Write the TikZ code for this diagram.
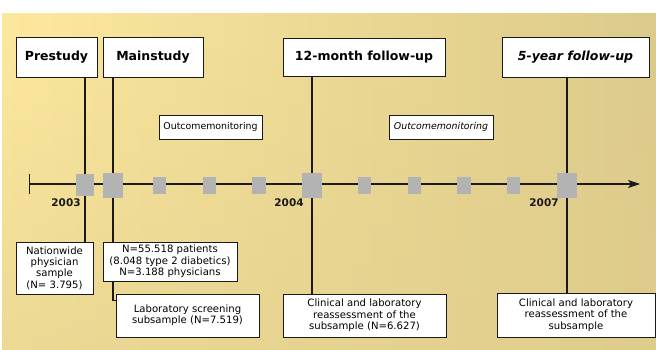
\documentclass[tikz,border=0pt]{standalone}
\usepackage{fontspec}
\setmainfont{DejaVu Sans}
\usetikzlibrary{arrows.meta,fadings,shadows}
\definecolor{bgA}{HTML}{FDE99E}
\definecolor{bgB}{HTML}{DCCA8B}
\definecolor{bgC}{HTML}{E2CF8E}
\definecolor{sqgray}{HTML}{B3B3B3}
\definecolor{ink}{HTML}{1A1A1A}
\tikzset{
  box/.style={draw=ink, line width=0.8pt, fill=white, inner sep=1pt, align=center,
    drop shadow={shadow xshift=1pt, shadow yshift=-1pt, fill=black, opacity=0.35}},
  titlebox/.style={box, font=\fontsize{12.5}{14}\selectfont\bfseries},
  smallbox/.style={box, font=\fontsize{10.1}{11.4}\selectfont},
  ombox/.style={box, font=\fontsize{9.4}{11}\selectfont},
  sqsmall/.style={fill=sqgray, minimum width=13pt, minimum height=17pt, inner sep=0pt},
  sqlarge/.style={fill=sqgray, minimum width=19pt, minimum height=25pt, inner sep=0pt},
  conn/.style={draw=ink, line width=1.2pt},
  year/.style={font=\fontsize{10.5}{12}\selectfont\bfseries, text=ink}
}
\begin{document}
\begin{tikzpicture}[x=1pt, y=-1pt]
\useasboundingbox (0,0) rectangle (656,350);
% background
\shade[left color=bgA, right color=bgB] (2,14) rectangle (656,350);
\fill[bgC, path fading=north, opacity=0.6] (2,14) rectangle (656,350);

% squares on timeline
\node[sqlarge, minimum width=17pt, minimum height=22pt] (s1) at (85,185) {};
\node[sqlarge] (s2) at (113,185.5) {};
\node[sqsmall] (s3) at (159.5,185.5) {};
\node[sqsmall] (s4) at (209.5,185.5) {};
\node[sqsmall] (s5) at (259,185.5) {};
\node[sqlarge] (s6) at (312,185.5) {};
\node[sqsmall] (s7) at (364.5,185.5) {};
\node[sqsmall] (s8) at (414.5,185.5) {};
\node[sqsmall] (s9) at (464,185.5) {};
\node[sqsmall] (s10) at (513.5,185.5) {};
\node[sqlarge] (s11) at (567,185.5) {};

% boxes
\node[titlebox, minimum width=81pt, minimum height=40pt] (pre) at (56.5,57) {Prestudy};
\node[titlebox, minimum width=100pt, minimum height=40pt] (main) at (153,57) {Mainstudy};
\node[titlebox, minimum width=162pt, minimum height=38pt] (twelve) at (364,57) {12-month follow-up};
\node[titlebox, minimum width=147pt, minimum height=40pt] (five) at (575.5,57) {\itshape 5-year follow-up};

\node[smallbox, minimum width=77pt, minimum height=52pt] (nat) at (54.5,268) {Nationwide\\physician\\sample\\(N= 3.795)};
\node[smallbox, minimum width=143pt, minimum height=43pt] (lab) at (187.5,315.5) {Laboratory screening\\subsample (N=7.519)};
\node[smallbox, minimum width=163pt, minimum height=43pt] (clin1) at (364.5,315.5) {Clinical and laboratory\\reassessment of the\\subsample (N=6.627)};
\node[smallbox, minimum width=158pt, minimum height=44pt] (clin2) at (576,315) {Clinical and laboratory\\reassessment of the\\subsample};

% connectors (behind the n55 box)
\draw[conn] (pre.south -| s1) -- (nat.north -| s1);
\draw[conn] (main.south -| s2) |- ([yshift=-7pt]lab.north west);
\draw[conn] (twelve.south -| s6) -- (clin1.north -| s6);
\draw[conn] (five.south -| s11) -- (clin2.north -| s11);

% timeline
\coordinate (t0) at (29,184);
\coordinate (t1) at (640,184);
\draw[ink, line width=1.3pt, {Bar[width=20pt,line width=1.3pt]}-{Stealth[length=12pt,width=8pt,inset=3pt]}] (t0) -- (t1);
\foreach \s in {s1,s2,s3,s4,s5,s6,s7,s8,s9,s10,s11} {\fill[sqgray] (\s.south west) rectangle (\s.north east);}

\node[smallbox, minimum width=134pt, minimum height=39pt] (n55) at (170,261.5) {N=55.518 patients\\(8.048 type 2 diabetics)\\N=3.188 physicians};

\node[ombox, minimum width=103pt, minimum height=24pt] (om1) at (210.5,127) {Outcomemonitoring};
\node[ombox, minimum width=104pt, minimum height=24pt] (om2) at (441,127) {\itshape Outcomemonitoring};

% years
\node[year] (y1) at (66,203) {2003};
\node[year] (y2) at (289,203) {2004};
\node[year] (y3) at (544,203) {2007};
\end{tikzpicture}
\end{document}
